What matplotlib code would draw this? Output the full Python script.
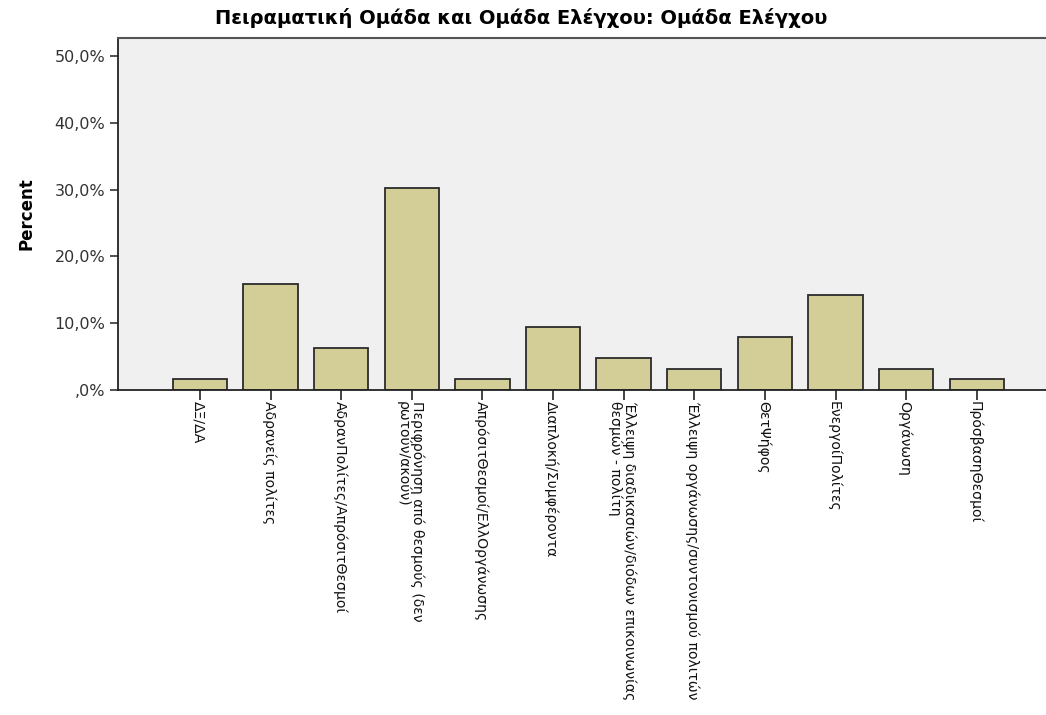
import matplotlib
matplotlib.use("Agg")
import matplotlib.pyplot as plt

categories = [
    "ΔΞ/ΔΑ",
    "Αδρανείς πολίτες",
    "ΑδρανΠολίτες/ΑπρόσιτΘεσμοί",
    "Περιφρόνηση από θεσμούς (δεν\nρωτούν/ακούν)",
    "ΑπρόσιτΘεσμοί/ΕλλΟργάνωσης",
    "Διαπλοκή/Συμφέροντα",
    "Έλλειψη διαδικασιών/διόδων επικοινωνίας\nθεσμών - πολίτη",
    "Έλλειψη οργάνωσης/συντονισμού πολιτών",
    "ΘετΨήφος",
    "ΕνεργοίΠολίτες",
    "Οργάνωση",
    "ΠρόσβασηΘεσμοί",
]
percent = [1.6, 15.9, 6.3, 30.2, 1.6, 9.5, 4.8, 3.2, 7.9, 14.3, 3.2, 1.6]
yticks = [0, 10, 20, 30, 40, 50]
ytick_labels = [",0%", "10,0%", "20,0%", "30,0%", "40,0%", "50,0%"]

fig = plt.figure(figsize=(10.46, 7.15), dpi=100)
ax = fig.add_axes([0.1128, 0.4545, 0.8872, 0.4924])
ax.set_facecolor("#f0f0f0")

x = list(range(len(categories)))
ax.bar(x, percent, width=0.77, color="#d3ce97", edgecolor="#2b2b2b", linewidth=1.3)

ax.set_xlim(-1.16, 11.98)
ax.set_ylim(0, 52.7)
ax.set_yticks(yticks)
ax.set_yticklabels(ytick_labels, fontsize=11.5, color="#333333")
ax.set_xticks(x)
ax.set_xticklabels(categories, rotation=270, rotation_mode="anchor",
                   ha="left", va="center_baseline", fontsize=10.1,
                   color="#111111", linespacing=1.0)
ax.tick_params(axis="y", direction="out", length=6, width=1.2, color="#333333", pad=3)
ax.tick_params(axis="x", direction="out", length=7, width=1.2, color="#222222", pad=1)

for side in ["left", "bottom"]:
    ax.spines[side].set_linewidth(1.3)
    ax.spines[side].set_color("#222222")
ax.spines["top"].set_linewidth(1.5)
ax.spines["top"].set_color("#555555")
ax.spines["right"].set_visible(False)

ax.set_ylabel("Percent", fontsize=12, fontweight="bold", labelpad=14)
ax.set_title("Πειραματική Ομάδα και Ομάδα Ελέγχου: Ομάδα Ελέγχου",
             fontsize=14, fontweight="bold", pad=10, x=0.435)

fig.savefig("out.png", dpi=100)
